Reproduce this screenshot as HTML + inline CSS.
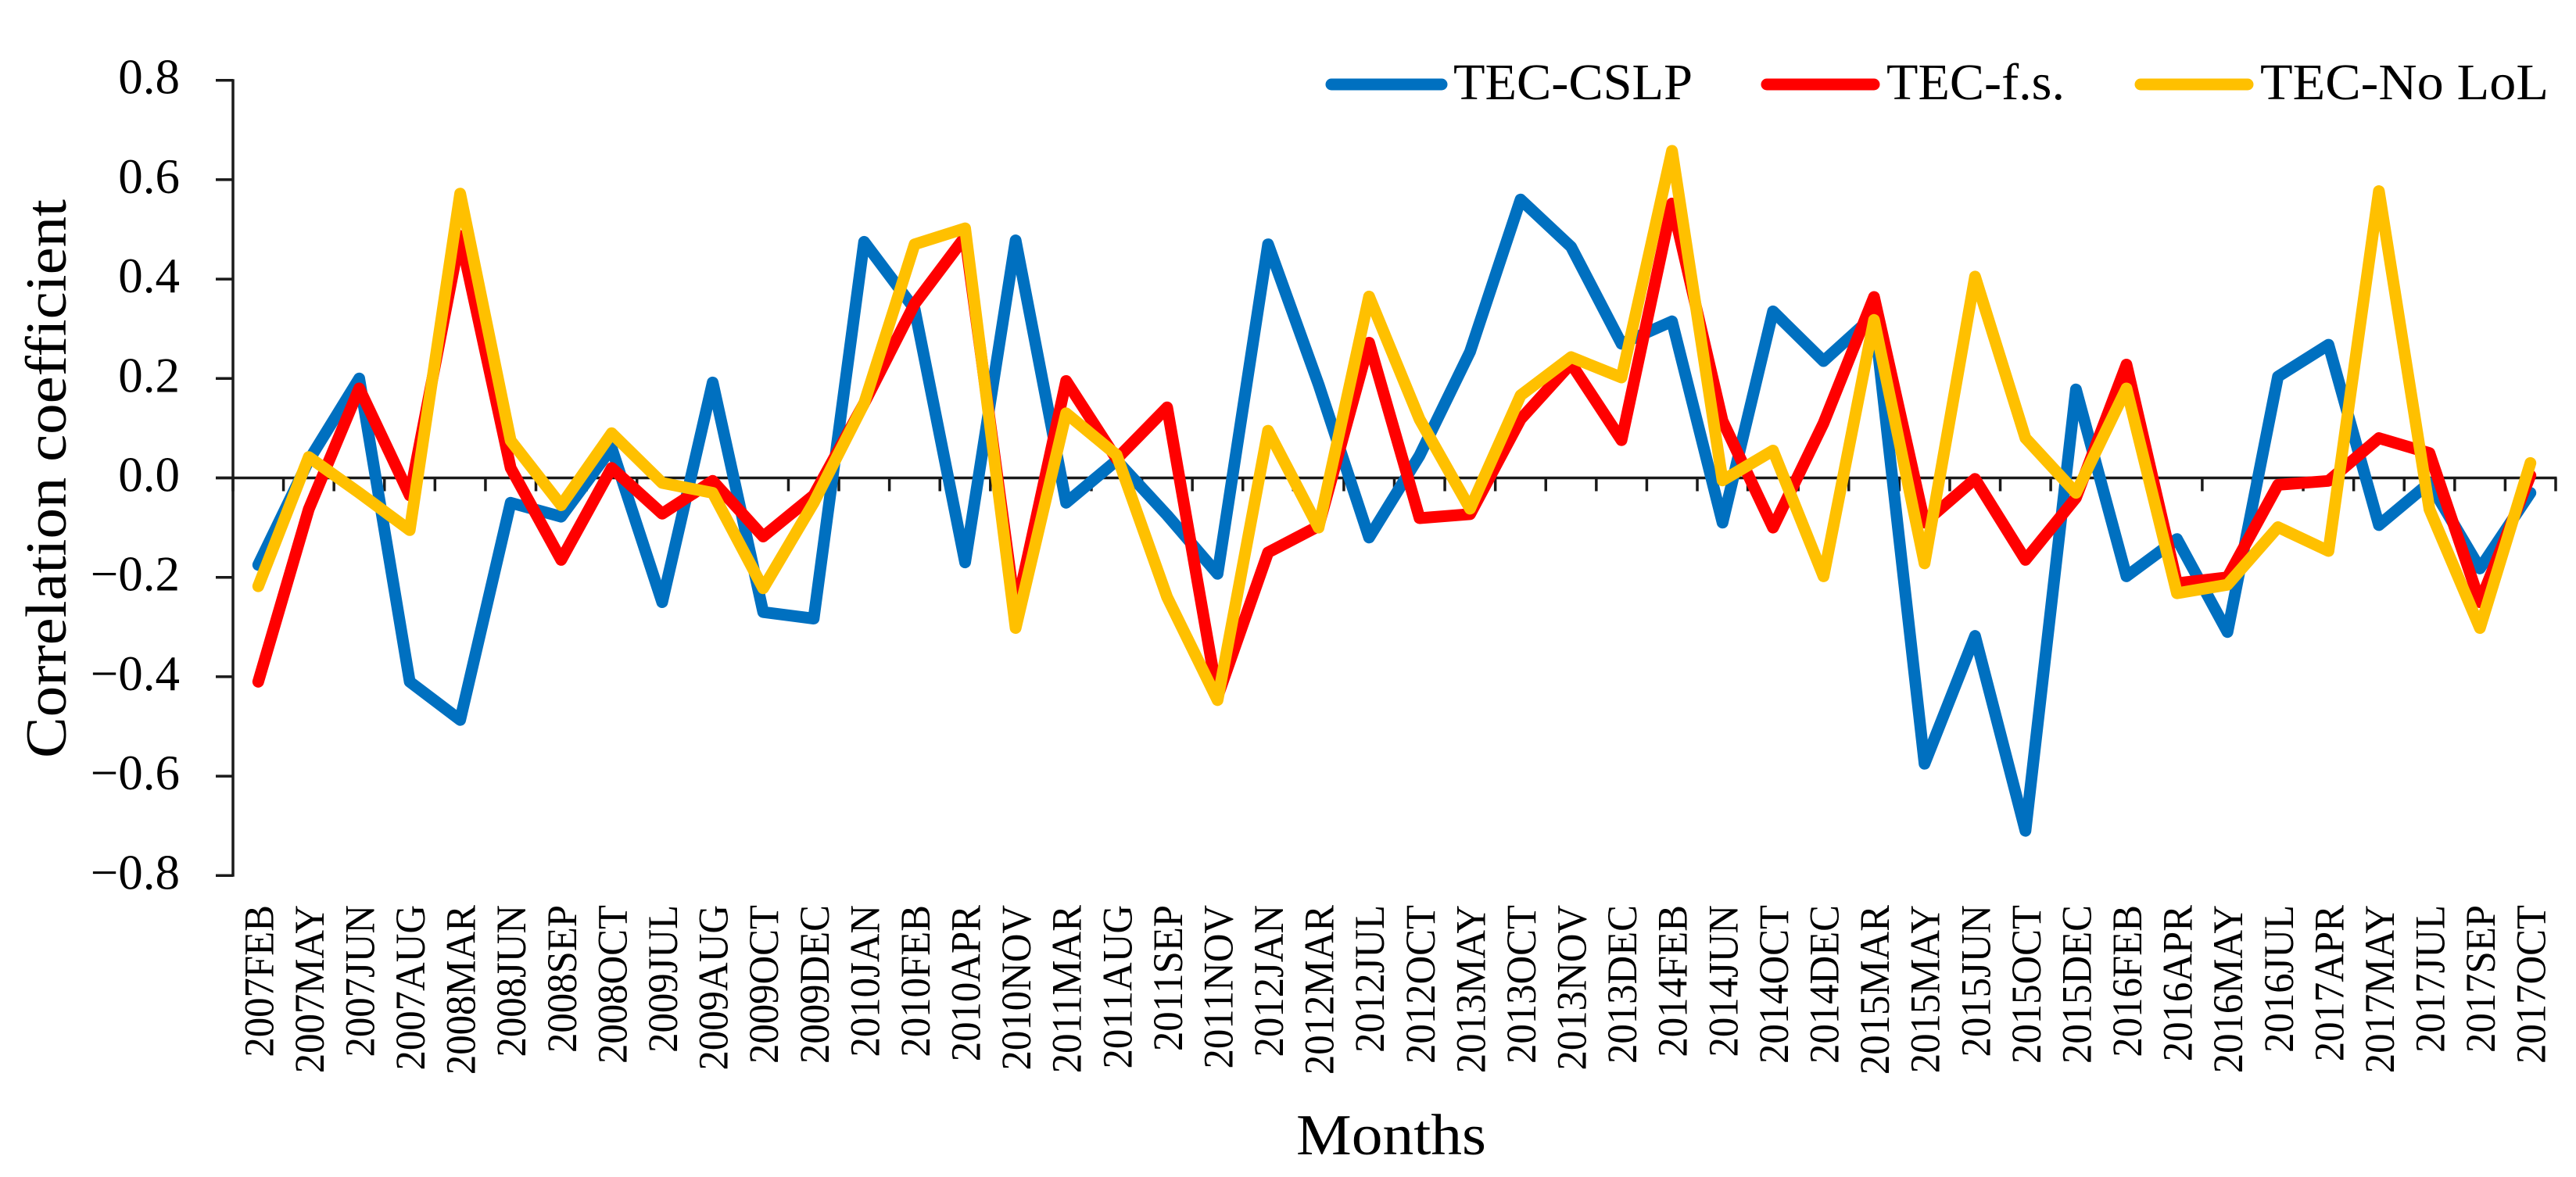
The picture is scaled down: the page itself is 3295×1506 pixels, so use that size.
<!DOCTYPE html>
<html lang="en">
<head>
<meta charset="utf-8">
<title>Correlation coefficient by month</title>
<style>
html,body{margin:0;padding:0;background:#fff;}
body{width:3295px;height:1506px;overflow:hidden;}
svg{display:block;}
text{font-family:"Liberation Serif",serif;fill:#000;}
</style>
</head>
<body>
<svg id="chart" xmlns="http://www.w3.org/2000/svg" width="3295" height="1506" viewBox="0 0 3295 1506">
  <rect x="0" y="0" width="3295" height="1506" fill="#ffffff"/>
  <g id="axes"></g>
  <g id="series"></g>
  <g id="x-labels"></g>
  <g id="y-labels"></g>
  <text transform="translate(84,970) rotate(-90)" font-size="74" textLength="715" lengthAdjust="spacingAndGlyphs">Correlation coefficient</text>
  <text x="1658" y="1477" font-size="74" textLength="243" lengthAdjust="spacingAndGlyphs">Months</text>
  <g>
    <g>
      <line x1="1703" y1="108" x2="1844" y2="108" stroke="#0070C0" stroke-width="15" stroke-linecap="round"/>
      <text x="1859" y="127" font-size="66" textLength="306" lengthAdjust="spacingAndGlyphs">TEC-CSLP</text>
    </g>
    <g>
      <line x1="2260" y1="108" x2="2397" y2="108" stroke="#FF0000" stroke-width="15" stroke-linecap="round"/>
      <text x="2413" y="127" font-size="66" textLength="228" lengthAdjust="spacingAndGlyphs">TEC-f.s.</text>
    </g>
    <g>
      <line x1="2738" y1="108" x2="2875" y2="108" stroke="#FFC000" stroke-width="15" stroke-linecap="round"/>
      <text x="2891" y="127" font-size="66" textLength="369" lengthAdjust="spacingAndGlyphs">TEC-No LoL</text>
    </g>
  </g>
</svg>
<script>
var months = ["2007FEB","2007MAY","2007JUN","2007AUG","2008MAR","2008JUN","2008SEP","2008OCT","2009JUL","2009AUG","2009OCT","2009DEC","2010JAN","2010FEB","2010APR","2010NOV","2011MAR","2011AUG","2011SEP","2011NOV","2012JAN","2012MAR","2012JUL","2012OCT","2013MAY","2013OCT","2013NOV","2013DEC","2014FEB","2014JUN","2014OCT","2014DEC","2015MAR","2015MAY","2015JUN","2015OCT","2015DEC","2016FEB","2016APR","2016MAY","2016JUL","2017APR","2017MAY","2017JUL","2017SEP","2017OCT"];
var tecCslp = [-0.175,0.035,0.2,-0.41,-0.487,-0.05,-0.078,0.06,-0.25,0.192,-0.27,-0.283,0.475,0.34,-0.17,0.478,-0.05,0.035,-0.075,-0.193,0.47,0.188,-0.12,0.045,0.254,0.56,0.465,0.27,0.315,-0.09,0.335,0.235,0.327,-0.575,-0.318,-0.71,0.178,-0.198,-0.123,-0.31,0.204,0.268,-0.095,-0.01,-0.182,-0.03];
var tecFs = [-0.41,-0.063,0.18,-0.035,0.487,0.02,-0.165,0.02,-0.072,-0.006,-0.118,-0.035,0.15,0.35,0.485,-0.27,0.195,0.038,0.142,-0.44,-0.15,-0.097,0.272,-0.081,-0.073,0.118,0.23,0.076,0.552,0.115,-0.1,0.11,0.364,-0.09,-0.002,-0.165,-0.04,0.228,-0.212,-0.2,-0.014,-0.006,0.08,0.05,-0.25,0.005];
var tecNoLol = [-0.218,0.042,-0.03,-0.105,0.572,0.075,-0.055,0.09,-0.01,-0.03,-0.222,-0.05,0.15,0.47,0.502,-0.302,0.13,0.046,-0.24,-0.447,0.095,-0.1,0.365,0.118,-0.062,0.166,0.243,0.202,0.658,-0.005,0.055,-0.198,0.318,-0.172,0.405,0.08,-0.03,0.18,-0.232,-0.215,-0.099,-0.147,0.577,-0.063,-0.302,0.03];
var yTickValues = [0.8,0.6,0.4,0.2,0,-0.2,-0.4,-0.6,-0.8];
var yTickLabels = ["0.8","0.6","0.4","0.2","0.0","\u22120.2","\u22120.4","\u22120.6","\u22120.8"];

var NS = "http://www.w3.org/2000/svg";
var plotLeft = 298, plotRight = 3269, zeroY = 611.5, unitY = 636;
var axisColor = "#1a1a1a";

function xBand() { return (plotRight - plotLeft) / months.length; }
function xTick(i) { return plotLeft + xBand() * i; }
function xCenter(i) { return plotLeft + xBand() * (i + 0.5); }
function yScale(v) { return zeroY - v * unitY; }

function axisLine(parent, x1, y1, x2, y2) {
  var l = document.createElementNS(NS, "line");
  l.setAttribute("x1", x1);
  l.setAttribute("y1", y1);
  l.setAttribute("x2", x2);
  l.setAttribute("y2", y2);
  l.setAttribute("stroke", axisColor);
  l.setAttribute("stroke-width", "3.5");
  parent.appendChild(l);
  return l;
}

var axes = document.getElementById("axes");
var yAxis = axisLine(axes, plotLeft, yScale(0.8) - 1.5, plotLeft, yScale(-0.8) + 1.5);


var xAxis = axisLine(axes, plotLeft - 22, yScale(0), plotRight + 1.5, yScale(0));



yTickValues.forEach(function (v) {
  var t = axisLine(axes, plotLeft - 22, yScale(v), plotLeft, yScale(v));
  
  
});
for (var k = 0; k <= months.length; k++) {
  var xt = axisLine(axes, xTick(k), yScale(0), xTick(k), yScale(0) + 17);
  
  
}

var yLabels = document.getElementById("y-labels");
yTickValues.forEach(function (v, i) {
  var t = document.createElementNS(NS, "text");
  t.setAttribute("x", 230);
  t.setAttribute("y", yScale(v) + 17);
  t.setAttribute("font-size", "63");
  t.setAttribute("text-anchor", "end");
  t.textContent = yTickLabels[i];
  
  
  yLabels.appendChild(t);
});

var xLabels = document.getElementById("x-labels");
months.forEach(function (m, i) {
  var t = document.createElementNS(NS, "text");
  t.setAttribute("transform", "translate(" + (xCenter(i) + 19) + ",1158) rotate(-90) scale(0.94,1)");
  t.setAttribute("font-size", "54");
  t.setAttribute("text-anchor", "end");
  t.textContent = m;
  
  
  xLabels.appendChild(t);
});

function drawSeries(values, color) {
  var pts = values.map(function (v, i) {
    return xCenter(i).toFixed(1) + "," + yScale(v).toFixed(1);
  }).join(" ");
  var p = document.createElementNS(NS, "polyline");
  p.setAttribute("points", pts);
  p.setAttribute("fill", "none");
  p.setAttribute("stroke", color);
  p.setAttribute("stroke-width", "15");
  p.setAttribute("stroke-linejoin", "round");
  p.setAttribute("stroke-linecap", "round");
  document.getElementById("series").appendChild(p);
  return p;
}

var lineCslp = drawSeries(tecCslp, "#0070C0");


var lineFs = drawSeries(tecFs, "#FF0000");


var lineNoLol = drawSeries(tecNoLol, "#FFC000");


</script>
</body>
</html>
